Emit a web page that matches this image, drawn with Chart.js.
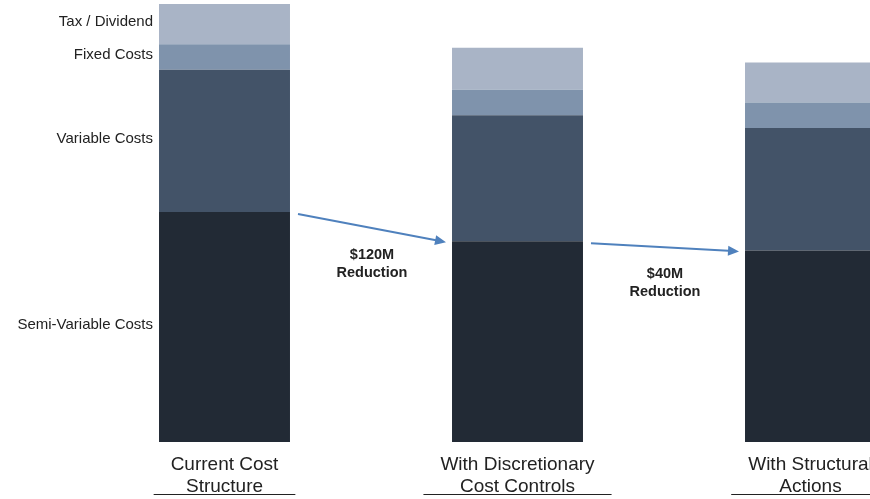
<!DOCTYPE html>
<html>
<head>
<meta charset="utf-8">
<script src="https://cdn.jsdelivr.net/npm/chart.js@4.4.0/dist/chart.umd.min.js"></script>
<style>
  html, body { margin: 0; padding: 0; background: #fff; overflow: hidden; }
  #wrap { position: relative; width: 960px; height: 499px; }
</style>
</head>
<body>
<div id="wrap"><canvas id="costChart" width="960" height="499"></canvas></div>
<script>
// -------------------- DATA ($M) --------------------
const categories = [
  ["Current Cost", "Structure"],
  ["With Discretionary", "Cost Controls"],
  ["With Structural", "Actions"]
];
const segmentNames = ["Semi-Variable Costs", "Variable Costs", "Fixed Costs", "Tax / Dividend"];
const semiVariable = [630, 550, 525];
const variableCosts = [390, 345, 335];
const fixedCosts = [70, 70, 70];
const taxDividend = [110, 115, 110];
const segmentColors = ["#222a35", "#435368", "#7f93ac", "#a9b4c6"];

const seriesValues = [semiVariable, variableCosts, fixedCosts, taxDividend];
const totals = categories.map((c, i) => seriesValues.reduce((s, arr) => s + arr[i], 0));

// -------------------- PLUGIN: labels, arrows, underlines --------------------
const annotations = {
  id: "annotations",
  afterDraw(chart) {
    const ctx = chart.ctx;
    const x = chart.scales.x;
    ctx.save();

    // segment names next to first bar
    ctx.font = "15px 'Liberation Sans', Arial, sans-serif";
    ctx.fillStyle = "#222";
    ctx.textAlign = "right";
    ctx.textBaseline = "middle";
    segmentNames.forEach((name, d) => {
      const bar = chart.getDatasetMeta(d).data[0];
      const mid = (bar.y + bar.base) / 2;
      ctx.fillText(name, bar.x - bar.width / 2 - 6, mid - 2);
    });

    // arrows between bars + reduction text
    const semiMeta = chart.getDatasetMeta(0);
    for (let i = 0; i < categories.length - 1; i++) {
      const a = semiMeta.data[i], b = semiMeta.data[i + 1];
      const x1 = a.x + a.width / 2 + 8, y1 = a.y + 2;
      const x2 = b.x - b.width / 2 - 6, y2 = b.y + 1;
      ctx.strokeStyle = "#4f81bd";
      ctx.fillStyle = "#4f81bd";
      ctx.lineWidth = 2;
      ctx.beginPath();
      ctx.moveTo(x1, y1);
      ctx.lineTo(x2 - 6, y2 - 6 * (y2 - y1) / (x2 - x1));
      ctx.stroke();
      const ang = Math.atan2(y2 - y1, x2 - x1);
      ctx.beginPath();
      ctx.moveTo(x2, y2);
      ctx.lineTo(x2 - 11 * Math.cos(ang) - 5 * Math.sin(ang), y2 - 11 * Math.sin(ang) + 5 * Math.cos(ang));
      ctx.lineTo(x2 - 11 * Math.cos(ang) + 5 * Math.sin(ang), y2 - 11 * Math.sin(ang) - 5 * Math.cos(ang));
      ctx.closePath();
      ctx.fill();

      const mx = (x1 + x2) / 2, my = (y1 + y2) / 2;
      ctx.fillStyle = "#222";
      ctx.font = "bold 14.5px 'Liberation Sans', Arial, sans-serif";
      ctx.textAlign = "center";
      ctx.fillText("$" + (totals[i] - totals[i + 1]) + "M", mx, my + 27);
      ctx.fillText("Reduction", mx, my + 45);
    }

    // underline category labels
    ctx.font = "19px 'Liberation Sans', Arial, sans-serif";
    ctx.strokeStyle = "#222";
    ctx.lineWidth = 1.2;
    categories.forEach((lines, i) => {
      const cx = x.getPixelForValue(i);
      const w = Math.max(...lines.map(l => ctx.measureText(l).width)) + 34;
      ctx.beginPath();
      ctx.moveTo(cx - w / 2, 494.5);
      ctx.lineTo(cx + w / 2, 494.5);
      ctx.stroke();
    });
    ctx.restore();
  }
};

// -------------------- CHART --------------------
const chart = new Chart(document.getElementById("costChart"), {
  type: "bar",
  data: {
    labels: categories,
    datasets: segmentNames.map((name, d) => ({
      label: name,
      data: seriesValues[d],
      backgroundColor: segmentColors[d],
      borderWidth: 0,
      barPercentage: 1,
      categoryPercentage: 0.447
    }))
  },
  options: {
    responsive: false,
    animation: false,
    layout: { padding: { left: 78, right: 3, top: 4, bottom: 0 } },
    plugins: { legend: { display: false }, tooltip: { enabled: false } },
    scales: {
      x: {
        stacked: true,
        grid: { display: false, drawTicks: false },
        border: { display: false },
        afterFit(scale) { scale.height = 57; },
        ticks: {
          color: "#222",
          padding: 12,
          maxRotation: 0,
          font: { family: "'Liberation Sans', Arial, sans-serif", size: 19, lineHeight: 1.15 }
        }
      },
      y: { stacked: true, display: false, min: 0, max: 1200 }
    }
  },
  plugins: [annotations]
});
</script>
</body>
</html>
